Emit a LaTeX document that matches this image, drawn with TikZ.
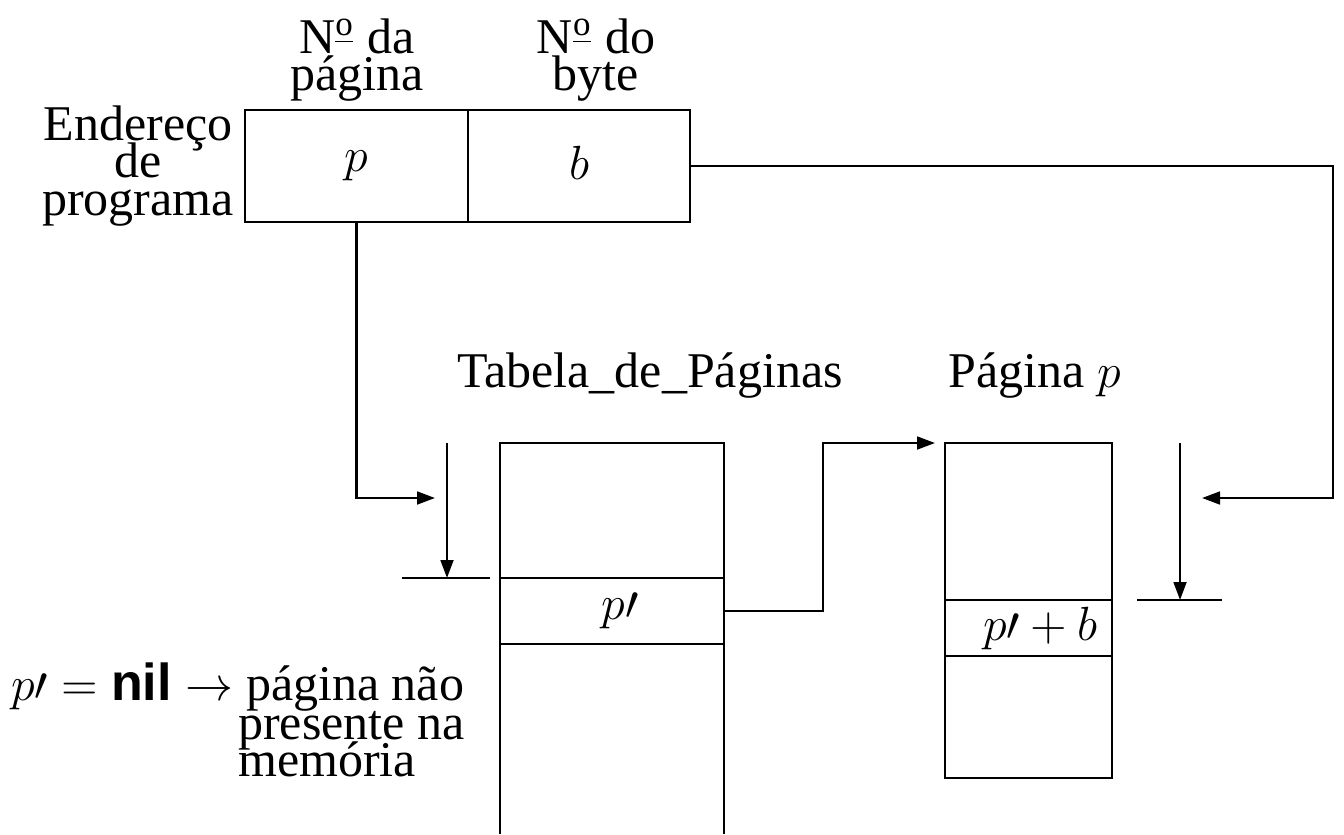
\documentclass[tikz,border=0pt]{standalone}
\usepackage{fontspec}
\setmainfont{Liberation Serif}
\newfontfamily\helv{Liberation Sans}
\usetikzlibrary{arrows.meta,positioning}
\newcommand{\apertado}{\fontsize{12.5}{9.4}\selectfont\lineskiplimit=-100pt\relax}
\tikzset{
  cell/.style={draw, inner sep=0pt, outer sep=0pt, font=\fontsize{13}{15}\selectfont},
  seta/.style={-{Triangle[length=4.5pt,width=3.2pt]}},
  rotulo/.style={align=center, inner sep=0pt, font=\apertado},
}

\begin{document}
\begin{tikzpicture}[x=0.25pt,y=-0.25pt,line width=0.6pt]
        \useasboundingbox (0,0) rectangle (1344,834);
        % --- Endereco de programa ---
        \node[cell,minimum width=223*0.25pt,minimum height=112*0.25pt] (pcell) at (356.5,166) {\raisebox{-1pt}{$p$}};
        \node[cell,minimum width=222*0.25pt,minimum height=112*0.25pt,right=0pt of pcell] (bcell) {\raisebox{1.5pt}{$b$}};
        \node[rotulo] (npag) at (357,60) {N\textsuperscript{\underline{o}} da\\página};
        \node[rotulo] (nbyte) at (596,60) {N\textsuperscript{\underline{o}} do\\byte};
        \node[rotulo] (ender) at (138,166) {Endereço\\de\\programa};
        % --- Tabela de paginas ---
        \node[rotulo] (ttab) at (650,376) {Tabela\_de\_Páginas};
        \node[cell,minimum width=224*0.25pt,minimum height=135*0.25pt] (tabtop) at (612,510.5) {};
        \node[cell,minimum width=224*0.25pt,minimum height=66*0.25pt,below=0pt of tabtop] (tabrow) {\hspace{4pt}\raisebox{2.5pt}{$p\prime$}};
        \node[minimum width=224*0.25pt,minimum height=190*0.25pt,inner sep=0pt,outer sep=0pt,below=0pt of tabrow] (tabbot) {};
        \draw (tabbot.north west) -- (tabbot.south west) (tabbot.north east) -- (tabbot.south east);
        % --- Pagina p ---
        \node[rotulo] (tpag) at (1035,376) {Página $p$};
        \node[cell,minimum width=167*0.25pt,minimum height=157*0.25pt] (pagtop) at (1028.5,521.5) {};
        \node[cell,minimum width=167*0.25pt,minimum height=56*0.25pt,below=0pt of pagtop] (pagrow) {\hspace{6pt}$p\prime + b$};
        \node[cell,minimum width=167*0.25pt,minimum height=122*0.25pt,below=0pt of pagrow] (pagbot) {};
        % --- nota ---
        \node[rotulo,anchor=base west] (nil) at (10,700) {\fontsize{13}{9.4}\selectfont$p\prime = \textbf{\helv nil} \rightarrow$ \fontsize{12.5}{9.4}\selectfont página não};
        \node[rotulo,align=left,anchor=north west] (nota) at (237,710) {presente na\\memória};
        % --- ligacoes ---
        \coordinate (c1) at (435,498);
        \coordinate (m1a) at (447,443);
        \coordinate (m1b) at (447,578);
        \coordinate (t1a) at (402,578);
        \coordinate (t1b) at (490,578);
        \coordinate (c2) at (935,443);
        \coordinate (c3) at (1202,498);
        \coordinate (m2a) at (1180,443);
        \coordinate (m2b) at (1180,600);
        \coordinate (t2a) at (1137,600);
        \coordinate (t2b) at (1222,600);
        \draw[seta] (pcell.south) |- (c1);
        \draw[seta] (m1a) -- (m1b);
        \draw (t1a) -- (t1b);
        \draw[seta] (tabrow.east) -- ++(99,0) |- (c2);
        \draw[seta] (bcell.east) -| (1333,498) -- (c3);
        \draw[seta] (m2a) -- (m2b);
        \draw (t2a) -- (t2b);
\end{tikzpicture}
\end{document}
